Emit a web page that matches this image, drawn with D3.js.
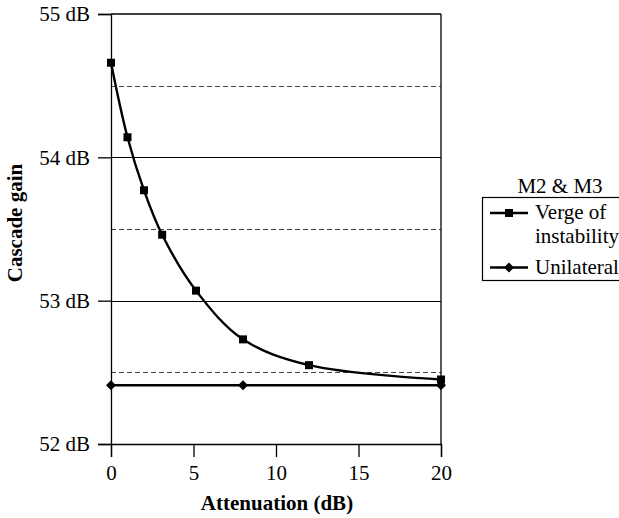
<!DOCTYPE html>
<html><head><meta charset="utf-8">
<script src="https://cdn.jsdelivr.net/npm/d3@7"></script>
<style>body{margin:0;background:#fff}text{font-family:"Liberation Serif","Times New Roman",serif;fill:#000}</style>
</head><body><svg id="c" width="619" height="518"></svg>
<script>
const vergeX = [0, 1, 2, 3.1, 5.15, 8, 12, 20];
const vergeY = [54.66, 54.14, 53.77, 53.46, 53.07, 52.73, 52.55, 52.45];
const uniX = [0, 8, 20];
const uniY = [52.41, 52.41, 52.41];
const xTicks = [0, 5, 10, 15, 20];
const yTicks = [52, 53, 54, 55];
const yTickLabels = ["52 dB", "53 dB", "54 dB", "55 dB"];
const dashedGrid = [52.5, 53.5, 54.5];
const seriesNames = ["Verge of|instability", "Unilateral"];
const legendTitle = "M2 & M3";

const FS = "21px";
const svg = d3.select("#c");
const x = d3.scaleLinear().domain([0, 20]).range([111, 441]);
const y = d3.scaleLinear().domain([52, 55]).range([444, 14]);

// gridlines
svg.selectAll(".gs").data([53, 54]).enter().append("line")
  .attr("x1", x(0)).attr("x2", x(20)).attr("y1", d => Math.round(y(d)) + 0.5).attr("y2", d => Math.round(y(d)) + 0.5)
  .attr("stroke", "#000").attr("stroke-width", 1);
svg.selectAll(".gd").data(dashedGrid).enter().append("line")
  .attr("x1", x(0)).attr("x2", x(20)).attr("y1", d => Math.round(y(d)) + 0.5).attr("y2", d => Math.round(y(d)) + 0.5)
  .attr("stroke", "#444").attr("stroke-width", 1).attr("stroke-dasharray", "5,3");
// top and right border
svg.append("line").attr("x1", x(0)).attr("x2", x(20)).attr("y1", y(55)).attr("y2", y(55)).attr("stroke", "#000").attr("stroke-width", 1.3);
svg.append("line").attr("x1", x(20)).attr("x2", x(20)).attr("y1", y(55)).attr("y2", y(52)).attr("stroke", "#000").attr("stroke-width", 1.3);

// axes
const yAxis = d3.axisLeft(y).tickValues(yTicks).tickSize(13).tickPadding(8).tickFormat((d, i) => yTickLabels[i]);
const gy = svg.append("g").attr("transform", `translate(${x(0)},0)`).call(yAxis);
const xAxis = d3.axisBottom(x).tickValues(xTicks).tickSize(13).tickPadding(8);
const gx = svg.append("g").attr("transform", `translate(0,${y(52)})`).call(xAxis);
[gx, gy].forEach(g => {
  g.attr("font-family", null).attr("font-size", null);
  g.select(".domain").attr("stroke", "#000").attr("stroke-width", 1.3);
  g.selectAll(".tick line").attr("stroke", "#000").attr("stroke-width", 1.3);
  g.selectAll("text").style("font-family", '"Liberation Serif",serif').style("font-size", FS).attr("fill", "#000");
});

// lines
const verge = vergeX.map((v, i) => [v, vergeY[i]]);
const uni = uniX.map((v, i) => [v, uniY[i]]);
const smooth = d3.line().x(d => x(d[0])).y(d => y(d[1])).curve(d3.curveCatmullRom.alpha(0.5));
const straight = d3.line().x(d => x(d[0])).y(d => y(d[1]));
svg.append("path").attr("d", straight(uni)).attr("fill", "none").attr("stroke", "#000").attr("stroke-width", 2.4);
svg.append("path").attr("d", smooth(verge)).attr("fill", "none").attr("stroke", "#000").attr("stroke-width", 2.4);

const sq = d3.symbol().type(d3.symbolSquare).size(64);
const dia = d3.symbol().type(d3.symbolDiamond2).size(64);
svg.selectAll(".sq").data(verge).enter().append("path").attr("d", sq)
  .attr("transform", d => `translate(${x(d[0])},${y(d[1])})`).attr("fill", "#000");
svg.selectAll(".di").data(uni).enter().append("path").attr("d", dia)
  .attr("transform", d => `translate(${x(d[0])},${y(d[1])})`).attr("fill", "#000");

// axis titles
svg.append("text").attr("x", 277).attr("y", 510).attr("text-anchor", "middle")
  .style("font-size", FS).style("font-weight", "bold").text("Attenuation (dB)");
svg.append("text").attr("transform", "translate(22,223) rotate(-90)").attr("text-anchor", "middle")
  .style("font-size", FS).style("font-weight", "bold").text("Cascade gain");

// legend
svg.append("text").attr("x", 560).attr("y", 193).attr("text-anchor", "middle").style("font-size", FS).text(legendTitle);
svg.append("rect").attr("x", 482.5).attr("y", 197.5).attr("width", 140).attr("height", 83).attr("fill", "none").attr("stroke", "#000").attr("stroke-width", 1.2);
const leg = [{yl: 213, sym: sq, lines: seriesNames[0].split("|"), ty: 219},
             {yl: 267.5, sym: dia, lines: seriesNames[1].split("|"), ty: 274}];
leg.forEach(l => {
  svg.append("line").attr("x1", 490).attr("x2", 528).attr("y1", l.yl).attr("y2", l.yl).attr("stroke", "#000").attr("stroke-width", 2.4);
  svg.append("path").attr("d", l.sym).attr("transform", `translate(509,${l.yl})`).attr("fill", "#000");
  l.lines.forEach((t, i) => svg.append("text").attr("x", 535).attr("y", l.ty + i * 24).style("font-size", FS).text(t));
});
</script></body></html>
